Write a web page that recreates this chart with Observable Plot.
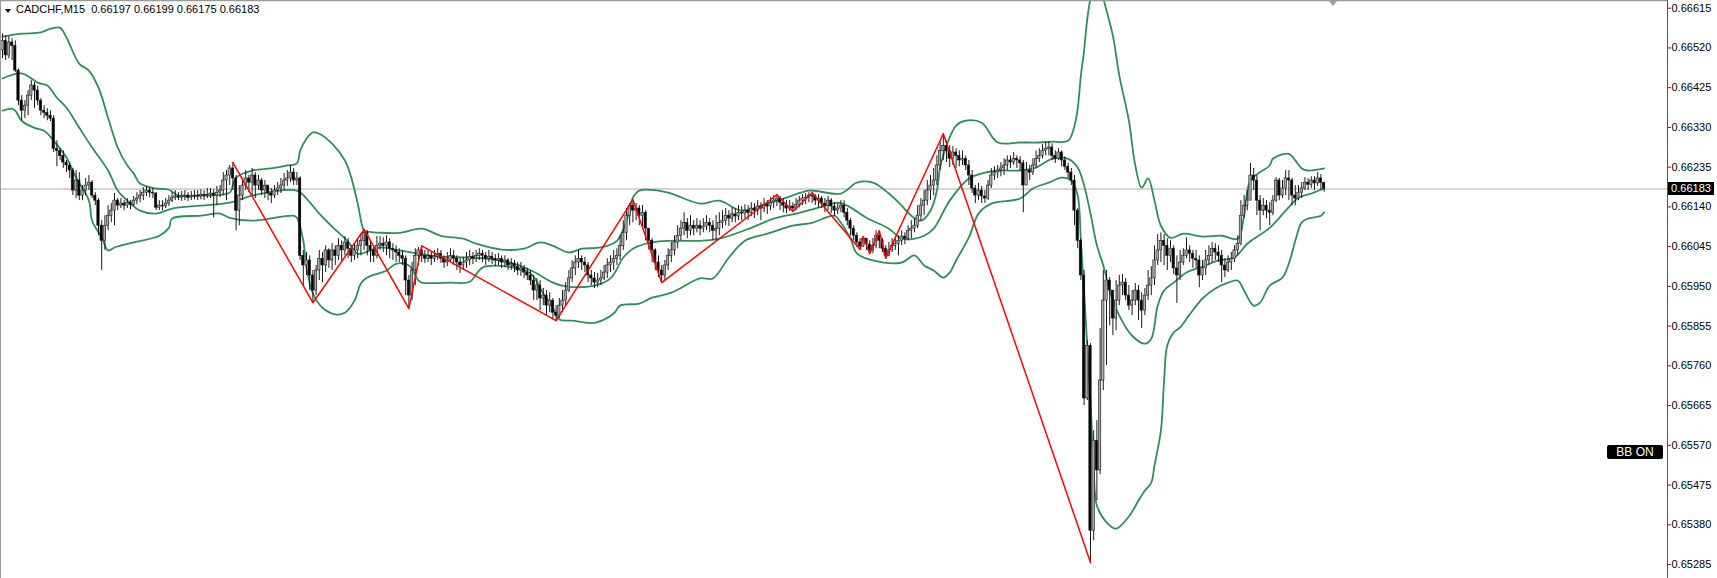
<!DOCTYPE html>
<html><head><meta charset="utf-8">
<script src="https://cdn.jsdelivr.net/npm/d3@7"></script>
<script src="https://cdn.jsdelivr.net/npm/@observablehq/plot@0.6"></script>
<style>
body{margin:0;background:#fff;}
#wrap{position:relative;width:1717px;height:578px;overflow:hidden;font-family:"Liberation Sans",Arial,sans-serif;background:#fff;}
#wrap svg{position:absolute;left:0;top:0;}
#hdr{position:absolute;left:16px;top:3px;font-size:11px;color:#000;white-space:pre;line-height:12px;}
#hdrTri{position:absolute;left:4.5px;top:9px;width:0;height:0;border-left:3.5px solid transparent;border-right:3.5px solid transparent;border-top:4px solid #000;}
#shiftTri{position:absolute;left:1329px;top:1px;width:0;height:0;border-left:4px solid transparent;border-right:4px solid transparent;border-top:5px solid #a0a0a0;}
#priceLbl{position:absolute;left:1668px;width:46px;height:13px;background:#000;color:#fff;font-size:11px;line-height:13px;text-align:center;}
#bbOn{position:absolute;left:1607px;top:445px;width:56px;height:14px;background:#000;color:#fff;font-size:12px;line-height:14px;text-align:center;border-radius:2px;}
</style></head><body>
<div id="wrap"></div>
<script>
// ---------- data (prices in points, 1 point = 0.00001) ----------
const symbolName = "CADCHF,M15";
const headerOHLC = ["0.66197", "0.66199", "0.66175", "0.66183"];
const firstOpen = 66514;
const closes = [
66537,66502,66533,66525,66466,66394,66370,66382,66406,66430,
66418,66394,66370,66365,66358,66351,66279,66274,66262,66246,
66239,66227,66179,66203,66167,66179,66191,66198,66167,66155,
66095,66059,66095,66119,66131,66155,66143,66148,66143,66150,
66145,66155,66160,66167,66174,66179,66174,66172,66138,66143,
66141,66148,66155,66162,66165,66162,66165,66167,66162,66165,
66167,66165,66169,66167,66169,66172,66167,66174,66179,66203,
66215,66232,66208,66131,66167,66191,66208,66198,66215,66191,
66203,66179,66191,66172,66167,66179,66184,66191,66203,66208,
66222,66203,66208,66023,66000,66012,65976,65940,65988,66016,
66000,66036,66012,66036,66023,66047,66036,66055,66040,66023,
66036,66047,66059,66078,66047,66036,66023,66047,66052,66047,
66055,66040,66036,66031,66023,66016,65964,65928,65988,66023,
66036,66023,66016,66023,66016,66021,66028,66016,66007,66012,
66023,66016,66007,66000,66007,66012,66021,66016,66023,66028,
66023,66016,66021,66016,66012,66016,66007,66012,66000,66004,
65997,65988,65993,65983,65976,65964,65940,65952,65921,65928,
65904,65916,65887,65880,65904,65916,65940,65969,65993,66007,
66016,66007,66000,65976,65969,65959,65964,65969,65983,66000,
66007,66016,66023,66047,66078,66119,66143,66131,66136,66119,
66126,66088,66059,66036,66007,65988,65976,66000,66023,66036,
66055,66071,66088,66102,66083,66095,66088,66095,66088,66093,
66102,66095,66083,66088,66102,66107,66119,66112,66122,66117,
66126,66124,66131,66126,66136,66131,66141,66136,66145,66141,
66150,66155,66160,66150,66143,66136,66141,66136,66145,66155,
66160,66162,66167,66165,66155,66160,66148,66143,66155,66141,
66131,66136,66143,66126,66107,66088,66071,66055,66045,66064,
66050,66036,66047,66071,66059,66040,66023,66036,66047,66052,
66059,66069,66064,66083,66088,66095,66119,66143,66155,66179,
66191,66203,66239,66274,66286,66274,66255,66270,66262,66251,
66255,66239,66215,66184,66167,66179,66165,66160,66191,66215,
66222,66227,66232,66239,66251,66246,66255,66251,66244,66191,
66227,66222,66239,66255,66262,66274,66279,66282,66262,66255,
66270,66251,66236,66222,66203,66131,66059,65976,65682,65808,
65366,65581,65510,65725,65916,65964,65940,65873,65916,65952,
65959,65928,65904,65916,65940,65916,65892,65928,65952,65969,
66012,66036,66059,66047,66023,66040,65993,65976,66007,66023,
66036,66028,66016,66012,65976,65993,66012,66023,66040,66031,
66023,66000,65988,66007,66016,66036,66052,66119,66143,66155,
66215,66203,66155,66131,66143,66131,66126,66155,66203,66167,
66184,66208,66203,66167,66160,66174,66184,66198,66193,66203,
66196,66208,66197,66183];
const highs = [
66554,66549,66547,66542,66537,66470,66406,66394,66418,66442,
66437,66428,66399,66382,66375,66370,66358,66298,66279,66274,
66251,66244,66232,66227,66222,66191,66208,66215,66203,66174,
66160,66107,66119,66143,66148,66172,66160,66160,66155,66160,
66155,66165,66174,66179,66186,66189,66186,66184,66174,66155,
66155,66160,66167,66174,66179,66174,66177,66179,66174,66177,
66179,66179,66181,66179,66184,66184,66181,66189,66191,66222,
66227,66239,66246,66215,66191,66208,66227,66215,66232,66222,
66215,66208,66203,66191,66184,66191,66198,66208,66220,66227,
66239,66232,66222,66212,66036,66031,66023,65988,66000,66036,
66031,66047,66040,66052,66047,66064,66059,66069,66064,66047,
66052,66064,66076,66086,66083,66059,66047,66069,66069,66066,
66071,66064,66052,66047,66040,66036,66023,65976,66007,66040,
66043,66047,66036,66036,66031,66036,66040,66036,66023,66031,
66040,66036,66023,66016,66019,66031,66036,66031,66036,66040,
66036,66031,66036,66031,66026,66028,66023,66023,66016,66016,
66012,66007,66007,66000,65993,65988,65976,65969,65964,65945,
65940,65935,65921,65904,65921,65940,65959,65988,66012,66023,
66036,66023,66019,66007,65988,65983,65981,65988,66000,66016,
66023,66036,66040,66071,66107,66136,66148,66157,66148,66143,
66143,66131,66088,66064,66040,66023,66000,66012,66040,66055,
66071,66095,66107,66126,66112,66119,66107,66112,66107,66112,
66119,66112,66107,66119,66126,66131,66136,66131,66138,66136,
66143,66141,66145,66143,66150,66148,66155,66150,66160,66155,
66162,66167,66169,66165,66160,66155,66155,66150,66160,66165,
66169,66172,66174,66174,66169,66169,66165,66160,66165,66160,
66150,66148,66155,66155,66136,66112,66095,66078,66064,66069,
66064,66059,66064,66083,66083,66064,66047,66055,66064,66066,
66071,66083,66078,66095,66107,66112,66143,66160,66179,66203,
66215,66232,66262,66298,66315,66298,66286,66284,66279,66274,
66274,66262,66251,66227,66191,66196,66189,66179,66203,66232,
66236,66239,66246,66255,66262,66262,66270,66262,66260,66251,
66246,66239,66255,66274,66279,66289,66294,66296,66291,66274,
66279,66274,66260,66244,66232,66215,66136,66064,65988,65820,
65813,65605,65629,65849,65988,65988,65971,65940,65964,65976,
65978,65969,65952,65940,65957,65952,65935,65945,65988,65997,
66047,66074,66078,66074,66064,66059,66047,66023,66036,66040,
66066,66047,66036,66036,66023,66012,66036,66047,66055,66052,
66047,66036,66016,66023,66031,66047,66071,66155,66167,66179,
66244,66232,66215,66167,66160,66155,66150,66167,66210,66208,
66203,66227,66227,66208,66191,66191,66198,66210,66208,66212,
66212,66222,66217,66199];
const lows = [
66494,66490,66494,66490,66461,66382,66346,66351,66358,66394,
66375,66382,66358,66351,66346,66344,66270,66236,66251,66232,
66222,66208,66167,66160,66155,66155,66167,66179,66160,66143,
66071,65988,66036,66083,66102,66095,66131,66136,66131,66136,
66133,66141,66145,66150,66155,66165,66162,66160,66131,66131,
66131,66136,66141,66150,66155,66155,66153,66155,66153,66155,
66157,66155,66157,66155,66160,66160,66114,66143,66162,66167,
66155,66191,66179,66083,66095,66155,66179,66174,66167,66160,
66179,66167,66160,66155,66148,66160,66167,66172,66179,66189,
66198,66191,66191,66012,65952,65976,65940,65911,65928,65964,
65959,65983,65993,65988,66000,66012,66007,66023,66016,66007,
66012,66016,66023,66036,66023,66007,66007,66016,66036,66031,
66023,66016,66012,66007,66007,66000,65928,65897,65916,65952,
66000,66007,66005,66007,66000,66007,66012,66005,65993,65997,
66007,66000,65988,65981,65988,65993,66000,66002,66007,66012,
66007,66000,66007,66002,65997,66000,65993,65995,65988,65988,
65983,65976,65974,65969,65964,65952,65916,65916,65892,65904,
65880,65887,65873,65868,65873,65887,65904,65935,65959,65976,
65993,65988,65983,65959,65952,65945,65947,65952,65964,65969,
65983,65988,66000,66012,66036,66059,66095,66102,66107,66095,
66088,66059,66036,66007,65988,65971,65959,65964,65988,66007,
66023,66040,66059,66071,66064,66071,66071,66078,66071,66078,
66083,66078,66059,66059,66071,66088,66095,66093,66102,66102,
66107,66107,66112,66107,66117,66112,66119,66107,66126,66122,
66131,66136,66141,66131,66126,66124,66129,66129,66131,66138,
66143,66145,66150,66148,66143,66138,66136,66126,66131,66124,
66117,66122,66126,66114,66095,66071,66059,66043,66038,66043,
66036,66028,66028,66040,66040,66031,66016,66021,66031,66036,
66023,66047,66050,66059,66064,66078,66088,66107,66119,66143,
66155,66167,66191,66227,66251,66246,66234,66239,66232,66236,
66239,66227,66191,66172,66148,66155,66148,66148,66155,66184,
66203,66208,66212,66215,66227,66232,66239,66232,66227,66126,
66191,66203,66215,66232,66246,66255,66262,66262,66251,66244,
66251,66236,66227,66208,66191,66095,66040,65964,65665,65677,
65290,65342,65438,65500,65701,65761,65856,65832,65844,65904,
65928,65916,65892,65880,65904,65868,65849,65880,65916,65928,
65952,66000,66007,66000,65988,66007,65978,65909,65964,66000,
66016,66007,65993,65993,65947,65964,65976,66000,66007,66012,
66007,65959,65971,65983,65988,66007,66023,66047,66112,66131,
66155,66179,66119,66083,66119,66112,66095,66119,66150,66155,
66160,66167,66155,66143,66143,66155,66160,66179,66179,66184,
66179,66189,66179,66175];

// Bollinger bands (bar index, price in points)
const upperIdx = [0,6,12,15,18,20,24,27,30,33,36,39,41,43,48,52,55,62,68,71,73,78,84,89,92,93,95,97,99,103,107,109,111,113,114,124,131,137,144,148,156,163,168,172,177,181,187,192,195,197,199,205,209,218,224,231,239,245,252,262,267,272,277,281,284,287,290,292,293,295,298,301,306,311,318,324,328,333,335,336,337,338,339,340,341,343,344,347,349,352,354,356,358,360,362,365,369,375,381,386,388,390,396,397,402,404,406,408,413];
const upperVal = [66547,66554,66557,66566,66568,66545,66482,66466,66425,66353,66282,66239,66220,66196,66184,66181,66167,66167,66169,66174,66210,66227,66232,66239,66244,66274,66303,66318,66315,66291,66251,66210,66148,66083,66081,66078,66088,66071,66064,66052,66038,66040,66055,66047,66031,66040,66043,66059,66107,66162,66179,66179,66172,66148,66155,66131,66148,66162,66179,66172,66198,66198,66172,66143,66119,66107,66131,66179,66234,66286,66334,66346,66341,66294,66294,66294,66296,66298,66334,66375,66454,66514,66590,66640,66680,66680,66640,66549,66454,66346,66239,66186,66208,66155,66095,66066,66076,66069,66071,66064,66119,66203,66239,66255,66267,66251,66232,66227,66232];
const middleIdx = [0,6,11,14,17,20,24,28,33,36,39,43,48,53,62,71,78,92,95,99,103,108,111,114,118,124,130,137,145,152,160,166,172,176,185,190,194,197,203,209,218,224,234,241,249,255,261,264,270,277,281,285,288,291,296,302,307,312,318,323,328,333,336,338,340,342,344,346,349,353,357,359,361,363,366,370,375,380,385,389,396,401,405,409,413];
const middleVal = [66447,66459,66437,66430,66401,66377,66329,66282,66227,66179,66155,66131,66124,66136,66143,66150,66167,66179,66160,66124,66093,66057,66028,66033,66043,66036,66028,66021,66019,66016,66004,65985,65959,65950,65952,65969,66019,66040,66055,66059,66059,66064,66090,66112,66126,66138,66150,66143,66114,66088,66064,66064,66071,66088,66155,66208,66222,66227,66227,66234,66255,66255,66234,66191,66124,66048,66000,65940,65880,65832,65813,65825,65904,65940,65959,65983,65997,66012,66019,66052,66090,66131,66162,66172,66184];
const lowerIdx = [0,3,4,6,10,13,16,20,23,27,28,31,33,35,41,49,52,53,62,68,71,78,91,92,94,95,97,100,104,107,110,112,114,120,123,127,130,131,140,146,150,158,165,169,172,174,178,185,191,193,199,203,209,218,222,227,232,239,247,253,260,262,265,267,272,281,285,288,291,294,296,298,302,305,309,318,322,327,331,334,336,337,338,340,341,342,345,348,352,355,357,359,360,362,363,364,366,368,371,375,379,383,386,388,391,393,396,400,402,404,406,408,412,413];
const lowerVal = [66370,66375,66370,66346,66329,66322,66298,66258,66210,66155,66107,66067,66036,66043,66055,66071,66090,66112,66119,66124,66114,66107,66119,66114,66059,65995,65933,65899,65883,65887,65916,65957,65971,65988,66004,66000,65964,65959,65959,65961,65995,65997,65981,65933,65899,65871,65868,65863,65885,65904,65909,65923,65935,65969,65969,66019,66059,66076,66095,66102,66119,66102,66064,66029,66012,66007,66024,66000,65988,65971,65983,66012,66067,66124,66148,66160,66184,66198,66210,66203,66167,66059,65935,65675,65510,65426,65386,65371,65400,65438,65462,65481,65522,65605,65725,65809,65840,65852,65883,65921,65945,65959,65964,65940,65904,65911,65952,65971,66005,66059,66103,66112,66119,66127];

// ZigZag swing points (bar index, price in points)
const zigIdx = [72,97,113,127,131,173,197,206,242,247,253,268,269,271,274,276,294,340];
const zigVal = [66246,65911,66086,65897,66047,65868,66157,65959,66169,66129,66174,66038,66069,66028,66083,66017,66315,65290];

// price axis ticks
const tickTop = 0.66615, tickStep = 0.00095, tickCount = 15;
const yTicks = d3.range(tickCount).map(k => +(tickTop - k * tickStep).toFixed(5));
const yDomain = [0.652517, 0.666334];
const xDomain = [-0.625, 520.3125];

// ---------- build tables ----------
const P = v => v / 100000;
const candles = closes.map((c, i) => {
  const o = i === 0 ? firstOpen : closes[i - 1];
  return {i, open: P(o), close: P(c), high: P(highs[i]), low: P(lows[i]), up: c >= o};
});
const band = (idx, val) => idx.map((i, k) => ({i, v: P(val[k])}));
const upper = band(upperIdx, upperVal), middle = band(middleIdx, middleVal), lower = band(lowerIdx, lowerVal);
const zig = band(zigIdx, zigVal);
const lastClose = P(closes[closes.length - 1]);
const green = "#2f8f58";

const chart = Plot.plot({
  width: 1717, height: 578,
  marginLeft: 0, marginRight: 50, marginTop: 0, marginBottom: 0,
  x: {domain: xDomain, axis: null},
  y: {domain: yDomain, axis: null},
  style: {fontFamily: "Liberation Sans, Arial, sans-serif", fontSize: "11px", color: "#000", background: "#fff", overflow: "visible"},
  marks: [
    Plot.ruleY([lastClose], {stroke: "#c8c8c8", strokeWidth: 1.5}),
    Plot.line(upper, {x: "i", y: "v", curve: "catmull-rom", stroke: green, strokeWidth: 1.8, clip: true}),
    Plot.line(middle, {x: "i", y: "v", curve: "catmull-rom", stroke: green, strokeWidth: 1.8, clip: true}),
    Plot.line(lower, {x: "i", y: "v", curve: "catmull-rom", stroke: green, strokeWidth: 1.8, clip: true}),
    Plot.ruleX(candles, {x: "i", y1: "low", y2: "high", stroke: "#1a1a1a", strokeWidth: 1}),
    Plot.rect(candles, {
      x1: d => d.i - 0.37, x2: d => d.i + 0.37, y1: "open", y2: "close",
      fill: d => d.up ? "#a8a8a8" : "#000", stroke: "#1a1a1a", strokeWidth: 0.6
    }),
    Plot.line(zig, {x: "i", y: "v", stroke: "#ff0000", strokeWidth: 1.5}),
    Plot.ruleX([xDomain[0]], {stroke: "#9a9a9a", strokeWidth: 1}),
    Plot.ruleY([yDomain[1]], {stroke: "#9a9a9a", strokeWidth: 1.5}),
    Plot.ruleX([xDomain[1]], {stroke: "#555", strokeWidth: 1}),
    Plot.axisY(yTicks, {anchor: "right", tickSize: 3, tickPadding: 1, tickFormat: d => d.toFixed(5), fontSize: 11, stroke: "#333"})
  ]
});

const wrap = document.getElementById("wrap");
wrap.appendChild(chart);

const hdrTri = document.createElement("div"); hdrTri.id = "hdrTri"; wrap.appendChild(hdrTri);
const hdr = document.createElement("div"); hdr.id = "hdr";
hdr.textContent = symbolName + "  " + headerOHLC.join(" ");
wrap.appendChild(hdr);

const shiftTri = document.createElement("div"); shiftTri.id = "shiftTri"; wrap.appendChild(shiftTri);

const priceLbl = document.createElement("div"); priceLbl.id = "priceLbl";
priceLbl.textContent = lastClose.toFixed(5);
priceLbl.style.top = (chart.scale("y").apply(lastClose) - 6.5) + "px";
wrap.appendChild(priceLbl);

const bb = document.createElement("div"); bb.id = "bbOn"; bb.textContent = "BB ON"; wrap.appendChild(bb);
</script>
</body></html>
